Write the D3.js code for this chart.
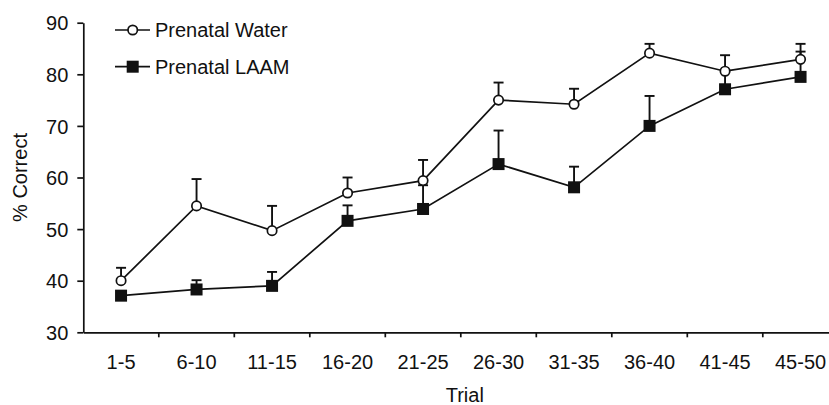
<!DOCTYPE html>
<html>
<head>
<meta charset="utf-8">
<script src="https://cdn.jsdelivr.net/npm/d3@7"></script>
<style>
  body { margin: 0; background: #fff; }
  svg text { font-family: "Liberation Sans", Arial, sans-serif; fill: #111; }
</style>
</head>
<body>
<svg></svg>
<script>
var width = 829;
var height = 405;

// trial blocks on the x axis
var trials = ["1-5", "6-10", "11-15", "16-20", "21-25", "26-30", "31-35", "36-40", "41-45", "45-50"];
// mean % correct and the top of the error bar (mean + SEM)
var waterMean = [40.0, 54.5, 49.7, 57.0, 59.4, 75.0, 74.2, 84.1, 80.6, 82.9];
var waterTop  = [42.5, 59.7, 54.5, 60.0, 63.4, 78.4, 77.2, 85.9, 83.7, 85.9];
var laamMean  = [37.1, 38.3, 39.0, 51.6, 53.9, 62.6, 58.1, 70.0, 77.1, 79.5];
var laamTop   = [38.0, 40.1, 41.7, 54.6, 58.5, 69.1, 62.1, 75.8, 80.5, 84.4];
var yTicks = [30, 40, 50, 60, 70, 80, 90];

var margin = {top: 22.7, left: 83.3};
var plotW = 755, plotH = 309.6;
var ink = "#111";
var fs = '20px';

var svg = d3.select('svg')
    .attr('width', width)
    .attr('height', height);

var g = svg.append('g').attr('transform', 'translate(' + margin.left + ',' + margin.top + ')');

var x = d3.scaleBand().domain(trials).range([0, plotW]);
var y = d3.scaleLinear().domain([30, 90]).range([plotH, 0]);
var cx = function(d, i) { return x(trials[i]) + x.bandwidth() / 2; };

// y axis
var yAxis = g.append('g')
    .call(d3.axisLeft(y).tickValues(yTicks).tickSize(6).tickPadding(9).tickSizeOuter(0));
yAxis.select('.domain').attr('stroke', ink).attr('stroke-width', 1.7);
yAxis.selectAll('.tick line').attr('stroke', ink).attr('stroke-width', 1.7);
yAxis.selectAll('text').style('font-size', fs).attr('dy', '0.36em');

// x axis: labels centred in each block, ticks on the block edges
var xAxis = g.append('g')
    .attr('transform', 'translate(0,' + plotH + ')')
    .call(d3.axisBottom(x).tickSize(0).tickPadding(23).tickSizeOuter(0));
xAxis.select('.domain').attr('stroke', ink).attr('stroke-width', 1.7);
xAxis.selectAll('text').style('font-size', fs);
xAxis.selectAll('.edge')
    .data(trials.slice(1))
    .enter().append('line')
    .attr('x1', function(d) { return x(d); })
    .attr('x2', function(d) { return x(d); })
    .attr('y1', 0).attr('y2', 5)
    .attr('stroke', ink).attr('stroke-width', 1.7);

// axis titles
svg.append('text')
    .attr('x', margin.left + x('26-30') + 4)
    .attr('y', 402)
    .attr('text-anchor', 'middle')
    .style('font-size', fs)
    .text('Trial');

svg.append('text')
    .attr('transform', 'translate(27,' + (margin.top + plotH / 2) + ') rotate(-90)')
    .attr('text-anchor', 'middle')
    .style('font-size', fs)
    .text('% Correct');

var line = d3.line()
    .x(function(d, i) { return cx(d, i); })
    .y(function(d) { return y(d); });

// error bars (upward only), drawn before markers so markers sit on top
function errorBars(means, tops) {
  var eb = g.append('g');
  eb.selectAll('line.v').data(means).enter().append('line')
      .attr('x1', cx).attr('x2', cx)
      .attr('y1', function(d) { return y(d); })
      .attr('y2', function(d, i) { return y(tops[i]); })
      .attr('stroke', ink).attr('stroke-width', 1.9);
  eb.selectAll('line.c').data(means).enter().append('line')
      .attr('x1', function(d, i) { return cx(d, i) - 5; })
      .attr('x2', function(d, i) { return cx(d, i) + 5; })
      .attr('y1', function(d, i) { return y(tops[i]); })
      .attr('y2', function(d, i) { return y(tops[i]); })
      .attr('stroke', ink).attr('stroke-width', 1.9);
}

errorBars(laamMean, laamTop);
errorBars(waterMean, waterTop);

g.append('path').datum(laamMean)
    .attr('d', line).attr('fill', 'none').attr('stroke', ink).attr('stroke-width', 1.7);
g.append('path').datum(waterMean)
    .attr('d', line).attr('fill', 'none').attr('stroke', ink).attr('stroke-width', 1.7);

g.selectAll('rect.laam').data(laamMean).enter().append('rect')
    .attr('x', function(d, i) { return cx(d, i) - 6; })
    .attr('y', function(d) { return y(d) - 6; })
    .attr('width', 12).attr('height', 12)
    .attr('fill', ink);

g.selectAll('circle.water').data(waterMean).enter().append('circle')
    .attr('cx', cx)
    .attr('cy', function(d) { return y(d); })
    .attr('r', 4.7)
    .attr('fill', '#fff').attr('stroke', ink).attr('stroke-width', 1.7);

// legend
var legend = svg.append('g');
legend.append('line').attr('x1', 115).attr('x2', 150).attr('y1', 30).attr('y2', 30)
    .attr('stroke', ink).attr('stroke-width', 1.7);
legend.append('circle').attr('cx', 132.7).attr('cy', 30).attr('r', 4.7)
    .attr('fill', '#fff').attr('stroke', ink).attr('stroke-width', 1.7);
legend.append('text').attr('x', 155).attr('y', 37).style('font-size', fs).text('Prenatal Water');

legend.append('line').attr('x1', 115).attr('x2', 150).attr('y1', 66.7).attr('y2', 66.7)
    .attr('stroke', ink).attr('stroke-width', 1.7);
legend.append('rect').attr('x', 126.7).attr('y', 60.7).attr('width', 12).attr('height', 12)
    .attr('fill', ink);
legend.append('text').attr('x', 155).attr('y', 73.7).style('font-size', fs).text('Prenatal LAAM');
</script>
</body>
</html>
